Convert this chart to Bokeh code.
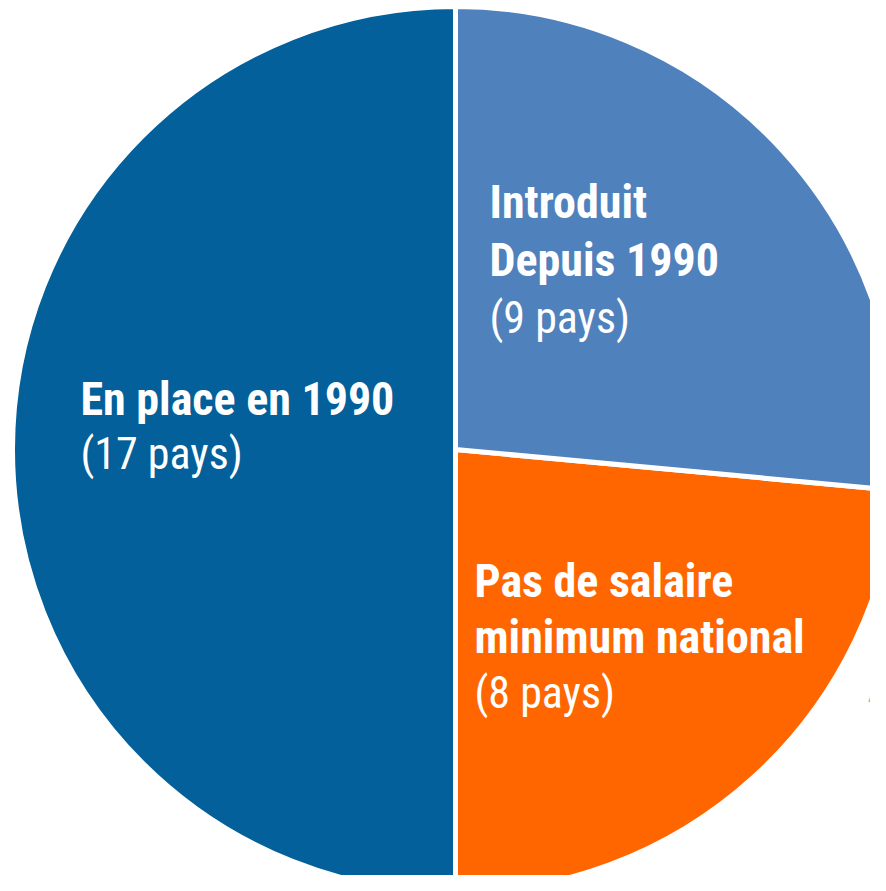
import numpy as np
from bokeh.plotting import figure
from bokeh.models import Range1d, ColumnDataSource
from bokeh.core.properties import value
from bokeh.embed import file_html
from bokeh.resources import INLINE

# ---- data (anticlockwise from the bottom of the pie) ----
categories = ["Pas de salaire minimum national", "Introduit depuis 1990", "En place en 1990"]
counts = [8, 9, 17]
colors = ["#FF6600", "#4F81BD", "#03609A"]

bold_lines = [["Pas de salaire", "minimum national"], ["Introduit", "Depuis 1990"], ["En place en 1990"]]
count_lines = ["(8 pays)", "(9 pays)", "(17 pays)"]

side_label = ["Accord", "Négocié", "(1 pays)"]

# ---- layout (picture pixels) ----
W, H = 870, 875
cx, cy, R = 455, 449, 443
shift = 17
label_pos = [(474, 597 - shift), (489, 218 - shift), (80, 415 - shift)]
line_gap = [56, 58, 55]

total = sum(counts)
ends = np.cumsum(counts) / total * 2 * np.pi - np.pi / 2
starts = np.concatenate([[-np.pi / 2], ends[:-1]])

p = figure(width=W, height=H, output_backend="svg", toolbar_location=None,
           x_range=Range1d(0, W), y_range=Range1d(-H, 0),
           min_border=0)
p.axis.visible = False
p.grid.visible = False
p.outline_line_color = None
p.background_fill_color = "white"

src = ColumnDataSource(dict(start=starts, end=ends, color=colors, cat=categories))
p.wedge(x=cx, y=-cy, radius=R, start_angle="start", end_angle="end",
        fill_color="color", line_color="white", line_width=5, source=src)

font = value("Roboto Condensed, Liberation Sans Narrow, DejaVu Sans Condensed")
for (lx, ly), bl, cl, gap in zip(label_pos, bold_lines, count_lines, line_gap):
    ys = [-(ly + i * gap) for i in range(len(bl))]
    p.text(x=[lx] * len(bl), y=ys, text=bl, text_font=font, text_font_style="bold",
           text_font_size="46px", text_color="white", text_baseline="alphabetic")
    p.text(x=[lx], y=[-(ly + len(bl) * gap)], text=[cl], text_font=font,
           text_font_size="44px", text_color="white", text_baseline="alphabetic")

p.text(x=[867] * 3, y=[-(702 - shift), -(760 - shift), -(818 - shift)], text=side_label,
       text_font=font, text_font_size="48px", text_color="#F79646", text_baseline="alphabetic")

open("out.html", "w").write(file_html(p, INLINE))
